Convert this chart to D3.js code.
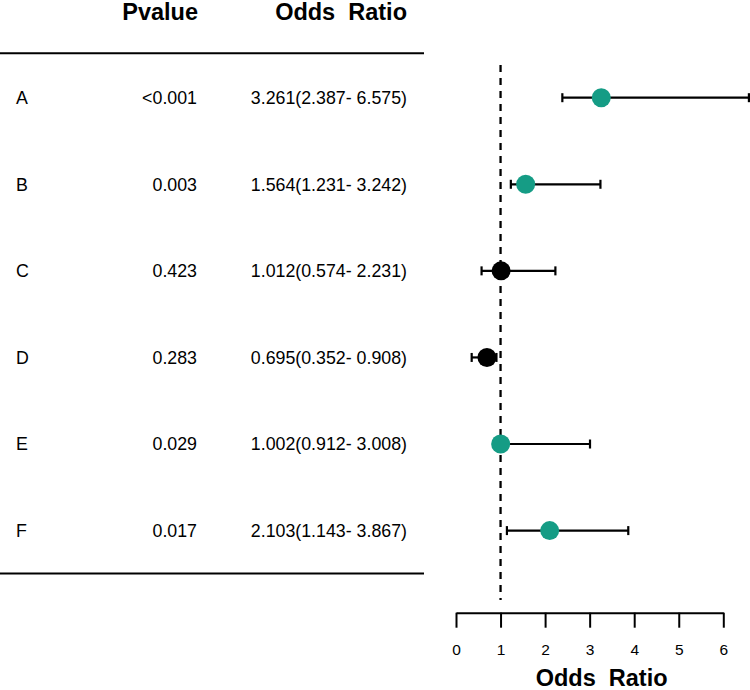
<!DOCTYPE html>
<html>
<head>
<meta charset="utf-8">
<script src="https://cdn.jsdelivr.net/npm/d3@7"></script>
<style>
  body { margin: 0; background: #fff; }
  svg { display: block; font-family: Arial, "Liberation Sans", sans-serif; }
</style>
</head>
<body>
<div id="chart"></div>
<script>
// data
const labels   = ["A", "B", "C", "D", "E", "F"];
const pvalues  = ["<0.001", "0.003", "0.423", "0.283", "0.029", "0.017"];
const orValues = [3.261, 1.564, 1.012, 0.695, 1.002, 2.103];
const lowerCI  = [2.387, 1.231, 0.574, 0.352, 0.912, 1.143];
const upperCI  = [6.575, 3.242, 2.231, 0.908, 3.008, 3.867];
const sigFlags = [true, true, false, false, true, true];
const xTicks   = [0, 1, 2, 3, 4, 5, 6];

const width = 750, height = 690;

const svg = d3.select("#chart").append("svg")
    .attr("width", width)
    .attr("height", height);

// scales
const x = d3.scaleLinear().domain([0, 6]).range([456, 723.3]);
const y = d3.scalePoint().domain(labels).range([97.7, 530.6]);

const rows = labels.map((l, i) => ({
  label: l, p: pvalues[i], or: orValues[i], lo: lowerCI[i], hi: upperCI[i], sig: sigFlags[i]
}));

const fmt = d3.format(".3f");

// table headers
svg.append("text")
    .attr("x", 198).attr("y", 19.5)
    .attr("text-anchor", "end")
    .style("font-weight", "bold").style("font-size", "23.5px")
    .text("Pvalue");
svg.append("text")
    .attr("x", 407).attr("y", 19.5)
    .attr("text-anchor", "end")
    .style("font-weight", "bold").style("font-size", "23.5px")
    .style("white-space", "pre")
    .text("Odds  Ratio");

// table rules
svg.append("line")
    .attr("x1", 0).attr("x2", 424).attr("y1", 53.3).attr("y2", 53.3)
    .style("stroke", "#000").style("stroke-width", 2);
svg.append("line")
    .attr("x1", 0).attr("x2", 424).attr("y1", 573.5).attr("y2", 573.5)
    .style("stroke", "#000").style("stroke-width", 2);

// table rows
const tRow = svg.append("g").attr("class", "table")
  .selectAll("g").data(rows).enter().append("g")
  .attr("transform", d => `translate(0,${y(d.label)})`)
  .style("font-size", "17.8px");

tRow.append("text").attr("x", 16).attr("dy", "0.36em").text(d => d.label);
tRow.append("text").attr("x", 197).attr("dy", "0.36em")
    .attr("text-anchor", "end").text(d => d.p);
tRow.append("text").attr("x", 407).attr("dy", "0.36em")
    .attr("text-anchor", "end").style("white-space", "pre")
    .text(d => fmt(d.or) + "(" + fmt(d.lo) + "- " + fmt(d.hi) + ")");

// reference line at OR = 1
svg.append("line")
    .attr("x1", x(1)).attr("x2", x(1))
    .attr("y1", 65).attr("y2", 600)
    .style("stroke", "#000").style("stroke-width", 2.3)
    .style("stroke-dasharray", "7,6");

// confidence intervals
const ci = svg.append("g").attr("class", "ci")
  .selectAll("g").data(rows).enter().append("g")
  .attr("transform", d => `translate(0,${y(d.label)})`);

ci.append("line")
    .attr("x1", d => x(d.lo)).attr("x2", d => x(d.hi))
    .style("stroke", "#000").style("stroke-width", 2.2);
ci.append("line")
    .attr("x1", d => x(d.lo)).attr("x2", d => x(d.lo))
    .attr("y1", -4.5).attr("y2", 4.5)
    .style("stroke", "#000").style("stroke-width", 2.2);
ci.append("line")
    .attr("x1", d => x(d.hi)).attr("x2", d => x(d.hi))
    .attr("y1", -4.5).attr("y2", 4.5)
    .style("stroke", "#000").style("stroke-width", 2.2);
ci.append("circle")
    .attr("cx", d => x(d.or))
    .attr("r", 9.5)
    .attr("fill", d => d.sig ? "#159c85" : "#000");

// x axis
const axis = svg.append("g")
    .attr("transform", "translate(0,612.7)")
    .call(d3.axisBottom(x).tickValues(xTicks).tickFormat(d3.format("d"))
          .tickSize(15).tickSizeOuter(0).tickPadding(16))
    .attr("font-size", 15.5)
    .attr("font-family", "Arial, 'Liberation Sans', sans-serif");
axis.select(".domain").style("stroke-width", 2);
axis.selectAll(".tick line").style("stroke-width", 2);

svg.append("text")
    .attr("x", (x.range()[0] + x.range()[1]) / 2 + 12)
    .attr("y", 686)
    .attr("text-anchor", "middle")
    .style("font-weight", "bold").style("font-size", "23.5px")
    .style("white-space", "pre")
    .text("Odds  Ratio");
</script>
</body>
</html>
